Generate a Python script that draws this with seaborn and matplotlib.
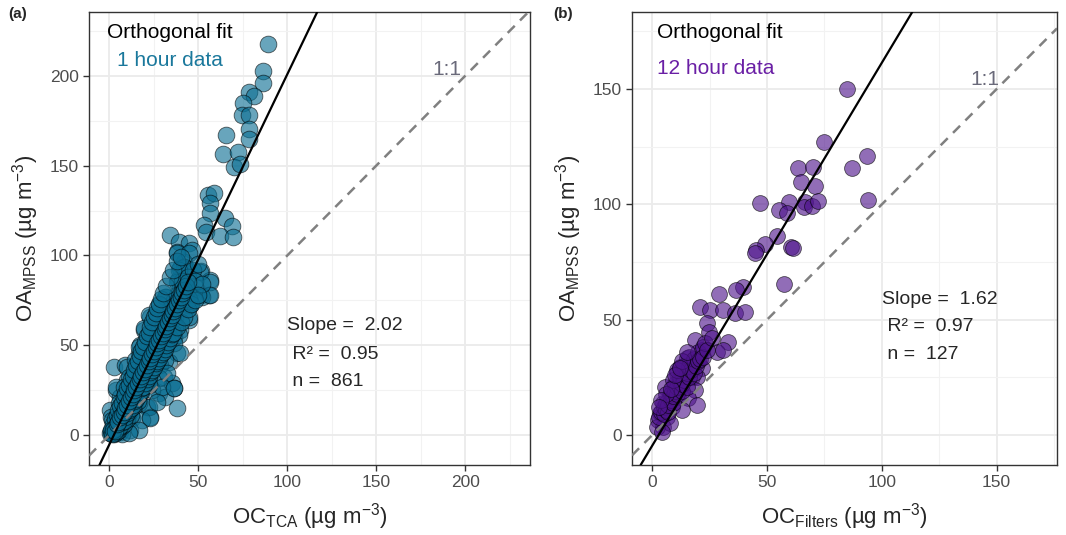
import matplotlib
matplotlib.use("Agg")
import matplotlib.pyplot as plt
from matplotlib.ticker import MultipleLocator
import seaborn as sns
import pandas as pd

# Panel (a): 1 hour data, OC_TCA vs OA_MPSS
a_x = [88.9, 86.3, 86.3, 78.7, 81.5, 74.9, 74.7, 78.3, 78.7, 78.3, 65.4, 63.9, 72.3, 70.2, 73.2,
       55.4, 58.6, 56.4, 56.7, 65.2, 68.9, 53.4, 54.3, 62.4, 69.5, 33.9, 38.9, 44.6, 46.5, 38.0,
       41.8, 39.9, 43.3, 51.5, 56.7, 38.4, 39.9, 43.3, 46.5, 55.8, 51.5, 32.0, 44.6, 27.7, 37.1,
       23.0, 25.8, 19.3, 44.6, 39.9, 32.4, 36.1, 28.7, 17.4, 21.2, 16.5, 38.0, 33.3, 28.7, 2.4,
       9.0, 13.7, 9.9, 13.7, 21.2, 30.5, 35.2, 36.1, 3.4, 6.2, 27.7, 31.5, 38.0, 0.2, 0.6,
       21.2, 23.0,
       38.0, 44.6, 41.8, 38.9, 51.1, 56.7, 38.0, 42.7, 48.3, 31.5, 36.1, 41.7, 45.5, 52.1,
       56.7, 22.1, 26.8, 31.5, 37.1, 44.6, 19.3, 24.0, 29.6, 34.3, 38.9, 16.5, 22.1, 26.8,
       31.5, 36.1, 39.9, 9.9, 14.6, 20.2, 25.8, 31.5, 10.8, 16.5, 22.1, 27.7, 32.4, 3.4, 8.0,
       12.8, 18.4, 24.0, 29.6, 36.1, 5.2, 10.8, 16.5, 22.1, 26.8, 1.5, 7.1, 12.8, 18.4, 23.0,
       0.6, 6.2, 11.8, 16.5, 2.4, 7.1, 10.8,
       1, 2, 3, 4, 5, 5, 6, 7, 8, 8, 9, 10, 10, 11, 12, 12, 13, 14, 14, 15, 16, 16, 17, 18, 18,
       19, 20, 20, 21, 22, 22, 23, 24, 24, 25, 26, 26, 27, 28, 28, 29, 30, 30, 31, 32, 33, 34,
       35, 36, 37, 38, 40, 41, 42, 44, 45, 47, 48, 50, 52,
       2, 3, 4, 4, 5, 6, 6, 7, 7, 8, 9, 9, 10, 11, 11, 12, 13, 13, 14, 15, 15, 16, 17, 17, 18,
       19, 19, 20, 21, 23, 25, 27, 29, 31, 33, 35, 3, 5, 7, 9, 11, 13, 15, 17, 19, 21, 23, 25,
       2, 3, 4, 5, 6, 7, 8, 9, 10, 11, 12, 13, 14, 15, 16, 17, 18, 19, 20, 21, 22, 23, 24, 25,
       26, 27, 28, 29, 30, 32, 34, 36, 38, 40,
       3, 4, 5, 6, 7, 8, 9, 10, 11, 12, 13, 14, 15, 16, 17, 18, 19, 20, 21, 22, 23, 24, 25, 26,
       27, 28, 29, 30, 31, 32, 33, 34, 35, 36, 38, 40, 42, 44, 46, 48, 50,
       0.5, 1, 1.5, 2, 3, 4, 5, 6, 7, 8, 9, 10, 11, 12, 13, 14, 15, 16, 17, 18, 19, 20, 21, 22,
       23, 24, 25, 26, 27, 28, 29, 30, 31, 32, 33, 34, 35, 36, 37, 38, 39, 40, 41, 42, 43, 44]
a_y = [217.8, 202.8, 195.9, 190.9, 189.0, 185.1, 178.3, 178.3, 170.3, 164.7, 167.1, 156.4, 157.8, 149.0, 150.8,
       133.7, 134.6, 129.0, 123.5, 120.7, 116.4, 117.0, 113.3, 110.9, 110.5, 111.4, 107.7, 106.7, 103.1, 102.1,
       96.5, 92.9, 92.9, 91.6, 86.4, 86.4, 81.7, 82.6, 79.9, 78.0, 78.0, 77.0, 72.4, 72.4, 71.5,
       65.9, 62.2, 58.5, 64.1, 58.5, 57.6, 54.8, 52.9, 50.1, 47.4, 45.5, 45.5, 40.8, 39.0, 38.0,
       39.0, 35.3, 30.6, 26.9, 30.6, 32.5, 28.8, 26.0, 25.1, 21.3, 23.2, 21.3, 14.8, 13.9, 10.2,
       15.8, 10.2,
       101.2, 101.2, 93.8, 91.9, 91.0, 85.4, 85.4, 82.6, 82.6, 77.0, 75.2, 73.4, 72.4, 77.0,
       78.0, 66.9, 65.0, 63.1, 65.9, 65.9, 59.4, 56.6, 57.6, 58.5, 55.7, 49.2, 50.1, 47.4,
       49.2, 51.1, 45.5, 38.0, 41.8, 40.0, 40.8, 41.8, 32.5, 33.4, 32.5, 31.6, 34.4, 26.9, 26.9,
       25.1, 26.0, 25.1, 26.9, 26.0, 17.7, 18.6, 17.7, 15.8, 18.6, 8.4, 10.2, 9.3, 8.4, 9.3,
       0.9, 1.8, 2.8, 2.8, 0.5, 0.8, 1.2,
       2, 1, 4, 3, 6, 2, 8, 5, 10, 6, 12, 9, 15, 13, 18, 11, 20, 16, 24, 22, 28, 19, 30, 24, 34,
       36, 32, 40, 38, 44, 28, 46, 42, 50, 48, 52, 44, 56, 50, 60, 54, 62, 48, 58, 66, 60, 70,
       64, 68, 60, 78, 74, 86, 80, 88, 76, 92, 86, 95, 84,
       3, 5, 5, 8, 9, 7, 11, 10, 13, 14, 12, 16, 17, 18, 21, 20, 22, 25, 23, 26, 29, 27, 30, 33, 31,
       35, 38, 37, 40, 44, 47, 52, 55, 59, 63, 67, 4, 7, 12, 15, 19, 23, 26, 30, 33, 37, 41, 44,
       6, 9, 11, 14, 16, 18, 21, 23, 26, 28, 31, 33, 36, 39, 41, 44, 47, 49, 52, 55, 57, 60, 63, 66,
       68, 71, 73, 76, 79, 83, 88, 92, 97, 99,
       1, 2, 4, 5, 7, 8, 10, 12, 14, 15, 17, 19, 20, 22, 24, 26, 27, 29, 31, 33, 35, 36, 38, 40,
       41, 43, 45, 46, 48, 50, 52, 54, 56, 57, 60, 63, 66, 70, 73, 75, 78,
       1, 3, 0.5, 3, 2, 6, 7, 10, 11, 13, 15, 17, 19, 21, 23, 25, 27, 29, 31, 33, 35, 37, 39, 41,
       43, 45, 47, 49, 51, 53, 55, 57, 59, 61, 63, 65, 67, 69, 71, 73, 75, 77, 79, 81, 83, 85]

# Panel (b): 12 hour data, OC_Filters vs OA_MPSS
b_x = [84.7, 74.9, 93.6, 86.8, 93.8, 63.3, 69.9, 64.6, 70.9, 59.7, 66.5, 66.2, 69.4, 72.3, 55.2,
       58.5, 47.0, 54.2, 49.1, 45.2, 44.7, 60.4, 61.1, 57.5,
       39.6, 36.5, 29.2, 20.8, 25.1, 30.9, 36.0, 40.4, 23.7, 24.8, 18.6, 33.1, 21.5, 28.0, 30.9,
       15.0, 17.9, 21.5, 12.1, 10.6, 14.2, 17.2, 19.3, 5.5, 9.1, 12.1, 18.6, 7.7, 11.3, 15.7,
       19.3, 4.8, 8.4, 12.8, 3.4, 6.3, 2.6, 4.8, 7.7, 1.9, 4.1,
       3, 4, 5, 5, 6, 6, 7, 7, 8, 8, 9, 9, 10, 10, 11, 11, 12, 12, 13, 13, 13, 14, 14, 15, 15,
       16, 16, 16, 17, 18, 18, 19, 20, 20, 21, 22, 22, 23, 24, 26, 9, 11, 13, 15, 6, 4, 3, 8,
       10, 12]
b_y = [149.9, 127.2, 121.1, 115.6, 101.9, 115.6, 116.3, 109.8, 108.1, 101.2, 101.2, 99.0, 99.4, 101.6, 97.6,
       96.4, 100.7, 86.4, 82.8, 80.2, 78.8, 81.4, 81.0, 65.5,
       64.3, 62.9, 61.1, 55.6, 54.2, 54.2, 52.8, 53.5, 48.4, 44.8, 41.2, 40.5, 36.9, 36.1, 36.9,
       33.3, 31.8, 28.9, 29.6, 26.8, 26.0, 25.3, 25.3, 20.9, 20.9, 20.3, 19.5, 17.3, 16.6, 15.9,
       13.0, 13.7, 12.3, 10.8, 9.4, 7.9, 6.5, 3.6, 5.1, 3.6, 1.4,
       8, 10, 9, 12, 11, 14, 10, 13, 15, 18, 14, 17, 19, 22, 18, 21, 23, 25, 19, 22, 27, 24, 30, 21, 27,
       25, 30, 34, 28, 27, 33, 30, 36, 32, 33, 38, 34, 40, 37, 42, 24, 28, 32, 36, 18, 15, 12, 20,
       26, 29]

# fitted lines as drawn in the reference (slope, intercept)
a_fit = (2.06, -5.1)
b_fit = (1.66, -4.6)
a_stats = ["Slope =  2.02", " R\u00b2 =  0.95", " n =  861"]
b_stats = ["Slope =  1.62", " R\u00b2 =  0.97", " n =  127"]

df_a = pd.DataFrame({"x": a_x, "y": a_y})
df_b = pd.DataFrame({"x": b_x, "y": b_y})

sns.set_style("white")
plt.rcParams['font.family'] = ['Liberation Sans', 'DejaVu Sans']
plt.rcParams['mathtext.fontset'] = 'custom'
plt.rcParams['mathtext.rm'] = 'Liberation Sans'
plt.rcParams['mathtext.it'] = 'Liberation Sans:italic'
plt.rcParams['mathtext.bf'] = 'Liberation Sans:bold'

fig = plt.figure(figsize=(10.66, 5.35), dpi=100)
ax_a = fig.add_axes([0.0835, 0.1308, 0.4137, 0.8468])
ax_b = fig.add_axes([0.5929, 0.1308, 0.3987, 0.8468])

panels = [
    (ax_a, df_a, "#0c6f93", 145, a_fit, (-11.5, 236.5), (-16.7, 235.6), [0, 50, 100, 150, 200],
     "1 hour data", "#1a789c", a_stats, r"OC$_{\mathrm{TCA}}$ (µg m$^{-3}$)",
     (0.041, 0.954), (0.0635, 0.892), [(0.449, 0.309), (0.449, 0.245), (0.449, 0.185)], (0.812, 0.872)),
    (ax_b, df_b, "#4e148c", 130, b_fit, (-8.8, 176.3), (-13.0, 183.4), [0, 50, 100, 150],
     "12 hour data", "#6a1fa5", b_stats, r"OC$_{\mathrm{Filters}}$ (µg m$^{-3}$)",
     (0.059, 0.954), (0.059, 0.876), [(0.588, 0.366), (0.588, 0.305), (0.588, 0.243)], (0.831, 0.85)),
]

for ax, df, col, size, fit, xl, yl, ticks, lab, labcol, stats, xlab, p1, p2, sp, p11 in panels:
    sns.scatterplot(data=df, x="x", y="y", ax=ax, color=col, alpha=0.62, s=size,
                    edgecolor=(0, 0, 0, 0.55), linewidth=0.6, zorder=3)
    ax.axline((0, 0), slope=1, color="#808080", lw=1.8, ls=(0, (4, 3)), zorder=4)
    ax.axline((0, fit[1]), slope=fit[0], color="black", lw=1.6, zorder=5)
    ax.set_xlim(*xl)
    ax.set_ylim(*yl)
    ax.set_xticks(ticks)
    ax.set_yticks(ticks)
    ax.xaxis.set_minor_locator(MultipleLocator(25))
    ax.yaxis.set_minor_locator(MultipleLocator(25))
    ax.grid(which="major", color="#ebebeb", lw=1.3)
    ax.grid(which="minor", color="#f2f2f2", lw=0.8)
    ax.set_axisbelow(True)
    for s in ax.spines.values():
        s.set_color("#333333")
        s.set_linewidth(1.0)
    ax.tick_params(which="major", direction="out", length=4, width=1, color="#333333",
                   labelsize=12.5, labelcolor="#4d4d4d", bottom=True, left=True)
    ax.tick_params(which="minor", length=0)
    ax.set_xlabel(xlab, fontsize=16, labelpad=8)
    ax.set_ylabel(r"OA$_{\mathrm{MPSS}}$ (µg m$^{-3}$)", fontsize=16, labelpad=6)
    ax.text(p1[0], p1[1], "Orthogonal fit", transform=ax.transAxes, fontsize=15,
            va="center", ha="left", color="black")
    ax.text(p2[0], p2[1], lab, transform=ax.transAxes, fontsize=15,
            va="center", ha="left", color=labcol)
    for (tx, ty), s in zip(sp, stats):
        ax.text(tx, ty, s, transform=ax.transAxes, fontsize=14, va="center", ha="left")
    ax.text(p11[0], p11[1], "1:1", transform=ax.transAxes, fontsize=15,
            va="center", ha="center", color="#6a6a7a")

fig.text(0.008, 0.974, "(a)", fontsize=11, fontweight="bold", va="center")
fig.text(0.519, 0.974, "(b)", fontsize=11, fontweight="bold", va="center")

fig.savefig("out.png", dpi=100)
